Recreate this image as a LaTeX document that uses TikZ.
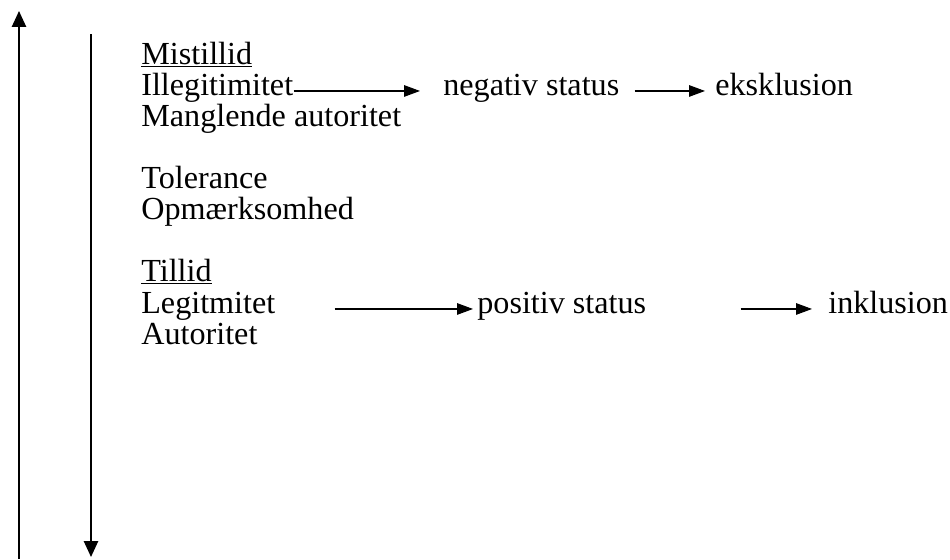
\documentclass[tikz,border=0pt]{standalone}
\usepackage{fontspec}
\setmainfont{Liberation Serif}
\usetikzlibrary{arrows.meta}

\tikzset{
  ord/.style={anchor=base west, inner sep=0pt, font=\fontsize{18.3}{22}\selectfont},
  pil/.style={-{Triangle[length=9pt,width=6.5pt]}, line width=0.6pt},
  akse/.style={-{Triangle[length=9pt,width=8pt]}, line width=1.1pt}
}

\begin{document}
\begin{tikzpicture}[x=0.02cm, y=-0.02cm]
		\useasboundingbox (0,0) rectangle (950,559);
		\draw[akse] (19,559) -- (19,11); % op
		\draw[akse] (91,34) -- (91,557); % ned
		% mistillid
		\node[ord] (mist) at (141,64) {\underline{Mistillid}};
		\node[ord] (illeg) at (141,95) {Illegitimitet};
		\node[ord] (mangl) at (141,126) {Manglende autoritet};
		\node[ord] (neg) at (443,95) {negativ status};
		\node[ord] (eks) at (715,95) {eksklusion};
		% midte
		\node[ord] (tol) at (141,188) {Tolerance};
		\node[ord] (opm) at (141,219) {Opmærksomhed};
		% tillid
		\node[ord] (till) at (141,281) {\underline{Tillid}};
		\node[ord] (legit) at (141,313) {Legitmitet};
		\node[ord] (aut) at (141,344) {Autoritet};
		\node[ord] (pos) at (477,313) {positiv status};
		\node[ord] (inkl) at (828,313) {inklusion};
		\draw[pil, shorten >=23*0.02cm] (illeg.mid east) -- (neg.mid west);
		\draw[pil, shorten <=15*0.02cm, shorten >=10*0.02cm] (neg.mid east) -- (eks.mid west);
		\draw[pil, shorten <=59*0.02cm, shorten >=4*0.02cm] (legit.mid east) -- (pos.mid west);
		\draw[pil, shorten <=94*0.02cm, shorten >=16*0.02cm] (pos.mid east) -- (inkl.mid west);
\end{tikzpicture}
\end{document}
